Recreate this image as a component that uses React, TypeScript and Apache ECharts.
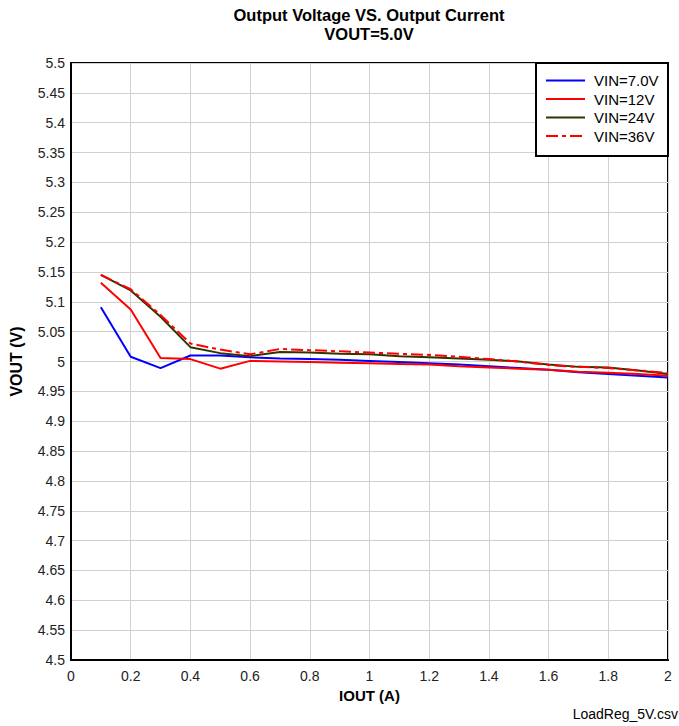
import React, { useEffect, useRef } from "react";
import * as echarts from "echarts";

const iout = [0.1, 0.2, 0.3, 0.4, 0.5, 0.6, 0.7, 0.8, 0.9, 1.0, 1.1, 1.2, 1.3, 1.4, 1.5, 1.6, 1.7, 1.8, 1.9, 2.0];
const vin7 = [5.091, 5.008, 4.989, 5.010, 5.010, 5.007, 5.005, 5.004, 5.003, 5.001, 4.999, 4.997, 4.995, 4.992, 4.989, 4.986, 4.982, 4.979, 4.976, 4.973];
const vin12 = [5.132, 5.087, 5.006, 5.004, 4.988, 5.001, 5.000, 4.999, 4.998, 4.997, 4.996, 4.995, 4.992, 4.990, 4.988, 4.986, 4.983, 4.981, 4.979, 4.976];
const vin24 = [5.145, 5.119, 5.075, 5.024, 5.014, 5.009, 5.016, 5.015, 5.013, 5.012, 5.009, 5.007, 5.005, 5.003, 5.000, 4.995, 4.991, 4.990, 4.985, 4.979];
const vin36 = [5.145, 5.121, 5.078, 5.030, 5.020, 5.012, 5.021, 5.019, 5.017, 5.015, 5.013, 5.011, 5.008, 5.004, 5.000, 4.994, 4.991, 4.989, 4.985, 4.981];

const seriesNames = ["VIN=7.0V", "VIN=12V", "VIN=24V", "VIN=36V"];
const titleLines = ["Output Voltage VS. Output Current", "VOUT=5.0V"];
const xName = "IOUT (A)";
const yName = "VOUT (V)";
const footer = "LoadReg_5V.csv";

const FONT = "'Liberation Sans', Arial, sans-serif";

export default function App() {
  const ref = useRef<HTMLDivElement>(null);
  useEffect(() => {
    if (!ref.current) return;
    const chart = echarts.init(ref.current, undefined, { renderer: "svg" });
    const pair = (ys: number[]) => iout.map((x, i) => [x, ys[i]]);
    const fmt = (v: number) => String(parseFloat(v.toFixed(2)));
    chart.setOption({
      animation: false,
      backgroundColor: "#fff",
      textStyle: { fontFamily: FONT },
      grid: {
        left: 71,
        right: 11,
        top: 63,
        bottom: 66,
        show: true,
        borderColor: "#000",
        borderWidth: 2,
        backgroundColor: "transparent",
      },
      xAxis: {
        type: "value",
        min: 0,
        max: 2,
        interval: 0.2,
        name: xName,
        nameLocation: "middle",
        nameGap: 26,
        nameTextStyle: { fontSize: 15, fontWeight: "bold", color: "#000", fontFamily: FONT },
        axisLine: { show: true, lineStyle: { color: "#000", width: 2 } },
        axisTick: { show: false },
        axisLabel: { fontSize: 14, color: "#222", margin: 9, formatter: fmt, fontFamily: FONT },
        splitLine: { show: true, lineStyle: { color: "#d0d0d0", width: 1 } },
      },
      yAxis: {
        type: "value",
        min: 4.5,
        max: 5.5,
        interval: 0.05,
        name: yName,
        nameLocation: "middle",
        nameRotate: 90,
        nameGap: 47,
        nameTextStyle: { fontSize: 16, fontWeight: "bold", color: "#000", fontFamily: FONT },
        axisLine: { show: true, lineStyle: { color: "#000", width: 2 } },
        axisTick: { show: false },
        axisLabel: { fontSize: 14, color: "#222", margin: 6, formatter: fmt, fontFamily: FONT },
        splitLine: { show: true, lineStyle: { color: "#d0d0d0", width: 1 } },
      },
      legend: {
        orient: "vertical",
        left: 545,
        top: 73,
        padding: 0,
        itemWidth: 39,
        itemHeight: 14,
        itemGap: 3.5,
        z: 10,
        itemStyle: { opacity: 0 },
        textStyle: { fontSize: 15, color: "#000", padding: [0, 0, 0, 4], fontFamily: FONT },
        data: seriesNames,
      },
      graphic: [
        {
          type: "rect",
          shape: { x: 536, y: 63, width: 132, height: 93 },
          style: { fill: "#fff", stroke: "#000", lineWidth: 2 },
          z: 5,
        },
        {
          type: "text",
          x: 369,
          y: 15,
          style: { text: titleLines[0], align: "center", verticalAlign: "middle", font: `bold 16.5px ${FONT}`, fill: "#000" },
        },
        {
          type: "text",
          x: 369,
          y: 34,
          style: { text: titleLines[1], align: "center", verticalAlign: "middle", font: `bold 16.5px ${FONT}`, fill: "#000" },
        },
        {
          type: "text",
          x: 678,
          y: 714,
          style: { text: footer, align: "right", verticalAlign: "middle", font: `14px ${FONT}`, fill: "#000" },
        },
      ],
      series: [
        {
          name: seriesNames[0],
          type: "line",
          data: pair(vin7),
          symbol: "none",
          lineStyle: { color: "#0000ff", width: 2 },
          itemStyle: { color: "#0000ff" },
        },
        {
          name: seriesNames[1],
          type: "line",
          data: pair(vin12),
          symbol: "none",
          lineStyle: { color: "#ff0000", width: 2 },
          itemStyle: { color: "#ff0000" },
        },
        {
          name: seriesNames[2],
          type: "line",
          data: pair(vin24),
          symbol: "none",
          lineStyle: { color: "#333300", width: 2 },
          itemStyle: { color: "#333300" },
        },
        {
          name: seriesNames[3],
          type: "line",
          data: pair(vin36),
          symbol: "none",
          lineStyle: { color: "#ff0000", width: 2, type: [12, 4, 4, 4] },
          itemStyle: { color: "#ff0000" },
        },
      ],
    });
    return () => chart.dispose();
  }, []);
  return <div ref={ref} style={{ width: 679, height: 726, position: "absolute", left: 0, top: 0 }} />;
}
